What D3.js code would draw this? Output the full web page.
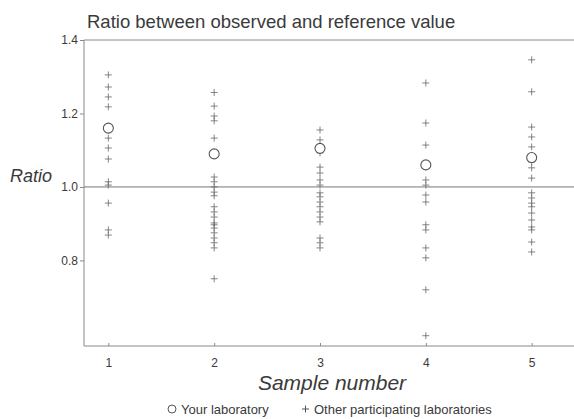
<!DOCTYPE html>
<meta charset="utf-8">
<script src="https://cdn.jsdelivr.net/npm/d3@7"></script>
<style>
  body { margin: 0; background: #fff; }
  svg text { font-family: "Liberation Sans", Arial, sans-serif; fill: #3a3a3a; }
</style>
<div id="vis"></div>
<script>
// sample numbers on the x axis
const samples = [1, 2, 3, 4, 5];

// ratio reported by "your laboratory", one per sample
const yourLab = [1.16, 1.09, 1.105, 1.06, 1.08];

// ratios from the other participating laboratories, per sample
const others1 = [1.305, 1.272, 1.245, 1.218, 1.133, 1.106, 1.076, 1.014, 1.005, 0.956, 0.883, 0.869];
const others2 = [1.257, 1.22, 1.193, 1.18, 1.133, 1.027, 1.014, 1.0, 0.986, 0.976, 0.946, 0.932, 0.918,
                 0.902, 0.897, 0.888, 0.875, 0.861, 0.848, 0.834, 0.75];
const others3 = [1.155, 1.128, 1.093, 1.054, 1.038, 1.019, 1.005, 0.984, 0.973, 0.959, 0.946, 0.932,
                 0.918, 0.905, 0.861, 0.848, 0.834];
const others4 = [1.283, 1.174, 1.114, 1.019, 1.005, 0.978, 0.959, 0.897, 0.883, 0.834, 0.807, 0.72, 0.595];
const others5 = [1.346, 1.259, 1.163, 1.136, 1.109, 1.068, 1.052, 1.024, 0.984, 0.97, 0.956, 0.946,
                 0.929, 0.91, 0.891, 0.883, 0.85, 0.823];
const others = [others1, others2, others3, others4, others5];

const yTicks = [0.8, 1.0, 1.2, 1.4];
const refValue = 1.0;

const width = 574, height = 419;
const margin = {left: 84, right: 574, top: 40, bottom: 346};

const x = d3.scaleLinear().domain([0.77, 5.4]).range([margin.left, margin.right]);
const y = d3.scaleLinear().domain([0.567, 1.4]).range([margin.bottom, margin.top]);

const svg = d3.select("#vis").append("svg")
  .attr("width", width).attr("height", height);

const grey = "#8a8a8a";

// frame: top, left and bottom lines
svg.append("path")
  .attr("d", `M${margin.right},${margin.top}H${margin.left}V${margin.bottom}H${margin.right}`)
  .attr("fill", "none").attr("stroke", grey).attr("stroke-width", 1);

// reference line at 1.0
svg.append("line")
  .attr("x1", margin.left).attr("x2", margin.right)
  .attr("y1", y(refValue)).attr("y2", y(refValue))
  .attr("stroke", "#777").attr("stroke-width", 1);

// y axis
const yAxis = d3.axisLeft(y).tickValues(yTicks).tickFormat(d3.format(".1f"))
  .tickSize(4).tickPadding(2);
const gy = svg.append("g").attr("transform", `translate(${margin.left},0)`).call(yAxis);
gy.select(".domain").remove();
gy.selectAll("line").attr("stroke", grey);
gy.selectAll("text").attr("font-size", 12).attr("fill", "#666")
  .style("font-family", "Liberation Sans, Arial, sans-serif");

// x axis (ticks point inward)
const xAxis = d3.axisBottom(x).tickValues(samples).tickFormat(d3.format("d"))
  .tickSizeInner(-3).tickSizeOuter(0).tickPadding(12);
const gx = svg.append("g").attr("transform", `translate(0,${margin.bottom})`).call(xAxis);
gx.select(".domain").remove();
gx.selectAll("line").attr("stroke", grey);
gx.selectAll("text").attr("font-size", 12).attr("fill", "#666")
  .style("font-family", "Liberation Sans, Arial, sans-serif");

// other labs: plus marks
const plus = {draw(ctx) {
  ctx.moveTo(-3.5, 0); ctx.lineTo(3.5, 0);
  ctx.moveTo(0, -3.5); ctx.lineTo(0, 3.5);
}};
const pts = [];
others.forEach((vals, i) => vals.forEach(v => pts.push({s: samples[i], v: v})));
svg.append("g").selectAll("path")
  .data(pts)
  .enter()
  .append("path")
  .attr("d", d3.symbol(plus)())
  .attr("transform", d => `translate(${x(d.s)},${y(d.v)})`)
  .attr("fill", "none").attr("stroke", "#666").attr("stroke-width", 0.8);

// your lab: open circles
svg.append("g").selectAll("circle")
  .data(yourLab)
  .enter()
  .append("circle")
  .attr("cx", (d, i) => x(samples[i]))
  .attr("cy", d => y(d))
  .attr("r", 5)
  .attr("fill", "#fff").attr("stroke", "#555").attr("stroke-width", 1.1);

// titles
svg.append("text").attr("x", 87).attr("y", 28).attr("font-size", 18.5)
  .text("Ratio between observed and reference value");
svg.append("text").attr("x", 10).attr("y", 182).attr("font-size", 18)
  .attr("font-style", "italic").text("Ratio");
svg.append("text").attr("x", 332).attr("y", 390).attr("font-size", 21)
  .attr("text-anchor", "middle").attr("font-style", "italic").text("Sample number");

// legend
const lg = svg.append("g");
lg.append("circle").attr("cx", 172).attr("cy", 409).attr("r", 4)
  .attr("fill", "none").attr("stroke", "#555");
lg.append("text").attr("x", 181).attr("y", 414).attr("font-size", 13).text("Your laboratory");
lg.append("path").attr("d", "M302,409h7M305.5,405.5v7").attr("stroke", "#555");
lg.append("text").attr("x", 314).attr("y", 414).attr("font-size", 13)
  .text("Other participating laboratories");
</script>
